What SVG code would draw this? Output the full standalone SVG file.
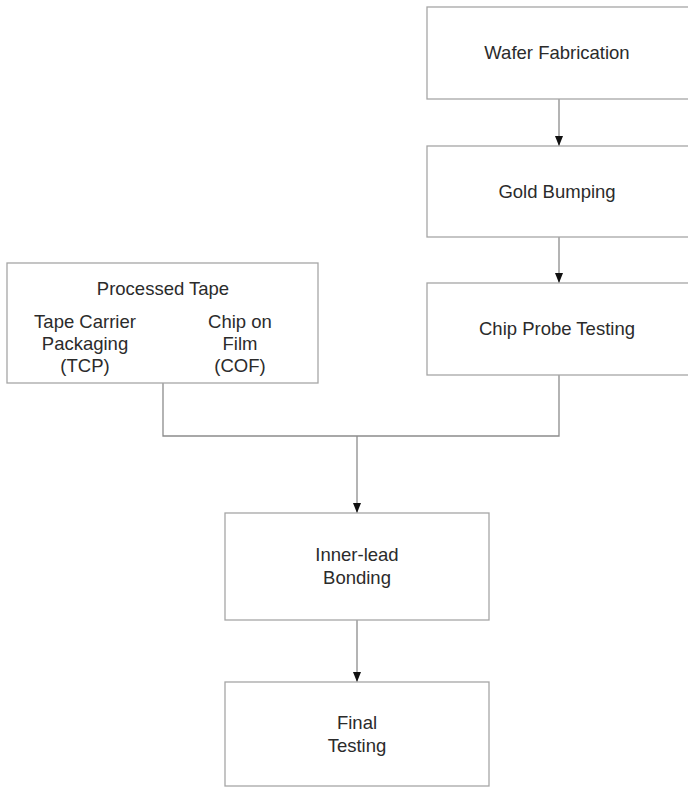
<svg xmlns="http://www.w3.org/2000/svg" width="688" height="788" viewBox="0 0 688 788">
<style>
.box{fill:#fff;stroke:#a6a6a6;stroke-width:1.3}
.t{font-family:"Liberation Sans",Arial,sans-serif;font-size:18.5px;fill:#2b2b2b;text-anchor:middle}
.c{fill:none;stroke:#8c8c8c;stroke-width:1.3}
</style>
<defs>
<marker id="ah" markerWidth="10" markerHeight="8" refX="10" refY="4" orient="auto" markerUnits="userSpaceOnUse" viewBox="0 0 10 8">
<path d="M0,0 L10,4 L0,8 Z" fill="#111"/>
</marker>
</defs>
<rect width="688" height="788" fill="#fff"/>
<g id="connectors">
<line class="c" x1="559" y1="99" x2="559" y2="146" marker-end="url(#ah)"/>
<line class="c" x1="559" y1="237" x2="559" y2="283" marker-end="url(#ah)"/>
<polyline class="c" points="163,383 163,436 559,436 559,375"/>
<line class="c" x1="357" y1="436" x2="357" y2="513" marker-end="url(#ah)"/>
<line class="c" x1="357" y1="620" x2="357" y2="682" marker-end="url(#ah)"/>
</g>
<g id="wafer">
<rect class="box" x="427" y="7" width="270" height="92"/>
<text class="t" x="557" y="59">Wafer Fabrication</text>
</g>
<g id="gold">
<rect class="box" x="427" y="146" width="270" height="91"/>
<text class="t" x="557" y="198">Gold Bumping</text>
</g>
<g id="probe">
<rect class="box" x="427" y="283" width="270" height="92"/>
<text class="t" x="557" y="335">Chip Probe Testing</text>
</g>
<g id="tape">
<rect class="box" x="7" y="263" width="311" height="120"/>
<text class="t" x="163" y="295">Processed Tape</text>
<text class="t" x="85" y="328">Tape Carrier</text>
<text class="t" x="85" y="350">Packaging</text>
<text class="t" x="85" y="372">(TCP)</text>
<text class="t" x="240" y="328">Chip on</text>
<text class="t" x="240" y="350">Film</text>
<text class="t" x="240" y="372">(COF)</text>
</g>
<g id="ilb">
<rect class="box" x="225" y="513" width="264" height="107"/>
<text class="t" x="357" y="561">Inner-lead</text>
<text class="t" x="357" y="584">Bonding</text>
</g>
<g id="final">
<rect class="box" x="225" y="682" width="264" height="104"/>
<text class="t" x="357" y="729">Final</text>
<text class="t" x="357" y="752">Testing</text>
</g>
</svg>
